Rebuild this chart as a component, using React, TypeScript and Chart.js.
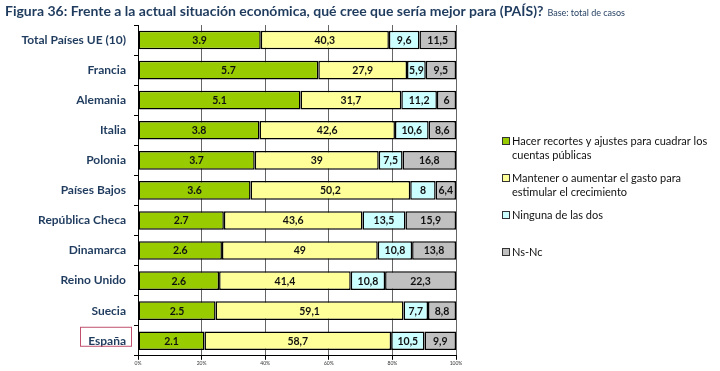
import React, { useEffect, useRef } from "react";
import { Chart, registerables } from "chart.js";
Chart.register(...registerables);

const categories = ["Total Países UE (10)", "Francia", "Alemania", "Italia", "Polonia", "Países Bajos", "República Checa", "Dinamarca", "Reino Unido", "Suecia", "España"];
const recortes = [38.6, 56.7, 51.1, 38.2, 36.7, 35.4, 27.0, 26.4, 25.5, 24.4, 20.9];
const recortesLabels = ["3.9", "5.7", "5.1", "3.8", "3.7", "3.6", "2.7", "2.6", "2.6", "2.5", "2.1"];
const mantener = [40.3, 27.9, 31.7, 42.6, 39, 50.2, 43.6, 49, 41.4, 59.1, 58.7];
const ninguna = [9.6, 5.9, 11.2, 10.6, 7.5, 8, 13.5, 10.8, 10.8, 7.7, 10.5];
const nsnc = [11.5, 9.5, 6, 8.6, 16.8, 6.4, 15.9, 13.8, 22.3, 8.8, 9.9];
const xTicks = ["0%", "20%", "40%", "60%", "80%", "100%"];
const seriesNames = [
  ["Hacer recortes y ajustes para cuadrar los", "cuentas públicas"],
  ["Mantener o aumentar el gasto para", "estimular el crecimiento"],
  ["Ninguna de las dos"],
  ["Ns-Nc"],
];
const titleText = "Figura 36: Frente a la actual situación económica, qué cree que sería mejor para (PAÍS)?";
const subtitleText = "Base: total de casos";
const highlighted = "España";

const colors = ["#99CC00", "#FFFF99", "#CCFFFF", "#C0C0C0"];
const FONT = "Lato, 'Open Sans', sans-serif";
const TEXT_BLUE = "#1F3B5E";

const fmt = (v: number) => String(v).replace(".", ",");

const overlay = {
  id: "overlay",
  afterDraw(chart: any) {
    const ctx = chart.ctx as CanvasRenderingContext2D;
    ctx.save();
    // title
    ctx.textBaseline = "alphabetic";
    ctx.textAlign = "left";
    ctx.fillStyle = TEXT_BLUE;
    ctx.font = `bold 14px ${FONT}`;
    ctx.fillText(titleText, 5, 16);
    const w = ctx.measureText(titleText).width;
    ctx.font = `9px ${FONT}`;
    ctx.fillText(subtitleText, 5 + w + 4, 16);

    // segment labels
    ctx.textAlign = "center";
    ctx.textBaseline = "middle";
    ctx.fillStyle = "#111";
    ctx.font = `bold 10.5px ${FONT}`;
    chart.data.datasets.forEach((ds: any, di: number) => {
      const meta = chart.getDatasetMeta(di);
      meta.data.forEach((el: any, i: number) => {
        const txt = di === 0 ? recortesLabels[i] : fmt(ds.data[i]);
        const cx = (el.x + el.base) / 2;
        ctx.fillText(txt, cx, el.y + 0.5);
      });
    });

    // highlight box around España
    const yScale = chart.scales.y;
    const idx = categories.indexOf(highlighted);
    if (idx >= 0) {
      const yc = yScale.getPixelForValue(idx);
      ctx.strokeStyle = "#C0506E";
      ctx.lineWidth = 1;
      ctx.strokeRect(80.5, yc - 13.5, 51, 19);
    }

    // legend
    const lx = 502;
    let ly = 141;
    ctx.textAlign = "left";
    ctx.textBaseline = "middle";
    ctx.font = `11px ${FONT}`;
    seriesNames.forEach((lines, i) => {
      ctx.fillStyle = colors[i];
      ctx.fillRect(lx + 0.5, ly - 3.5, 7, 7);
      ctx.strokeStyle = "#333";
      ctx.lineWidth = 1;
      ctx.strokeRect(lx + 0.5, ly - 3.5, 7, 7);
      ctx.fillStyle = "#111";
      lines.forEach((t, j) => {
        ctx.fillText(t, lx + 10, ly + j * 14.5);
      });
      ly += 37;
    });
    ctx.restore();
  },
};

export default function App() {
  const ref = useRef<HTMLCanvasElement | null>(null);
  useEffect(() => {
    if (!ref.current) return;
    const series = [recortes, mantener, ninguna, nsnc];
    const chart = new Chart(ref.current, {
      type: "bar",
      data: {
        labels: categories,
        datasets: series.map((d, i) => ({
          label: seriesNames[i].join(" "),
          data: d,
          backgroundColor: colors[i],
          borderColor: "#000",
          borderWidth: 1.5,
          borderSkipped: false,
          barPercentage: 0.62,
          categoryPercentage: 1,
        })),
      },
      options: {
        indexAxis: "y",
        responsive: false,
        animation: false,
        events: [],
        layout: { padding: { top: 25, right: 264, left: 0, bottom: 0 } },
        plugins: { legend: { display: false }, tooltip: { enabled: false }, title: { display: false } },
        scales: {
          x: {
            stacked: true,
            min: 0,
            max: 100,
            afterFit: (s: any) => { s.height = 14; },
            afterBuildTicks: (s: any) => {
              s.ticks = [0, 20, 40, 60, 80, 100].map((v) => ({ value: v }));
            },
            ticks: {
              callback: (_v: any, i: number) => xTicks[i],
              font: { family: FONT, size: 5 },
              color: "#333",
              padding: 1,
              maxRotation: 0,
              autoSkip: false,
            },
            grid: { color: "#666", lineWidth: 1, tickLength: 4, tickColor: "#000" },
            border: { color: "#000", width: 1 },
          },
          y: {
            stacked: true,
            afterFit: (s: any) => { s.width = 138; },
            ticks: {
              font: { family: FONT, size: 12, weight: "bold" },
              color: TEXT_BLUE,
              padding: 8,
              autoSkip: false,
            },
            grid: { drawOnChartArea: false, drawTicks: true, tickLength: 4, tickColor: "#000", offset: true },
            border: { color: "#000", width: 1 },
          },
        },
      },
      plugins: [overlay],
    } as any);
    return () => chart.destroy();
  }, []);
  return (
    <div style={{ position: "fixed", left: 0, top: 0, width: 720, height: 371, background: "#fff" }}>
      <canvas ref={ref} width={720} height={371} style={{ display: "block" }} />
    </div>
  );
}
